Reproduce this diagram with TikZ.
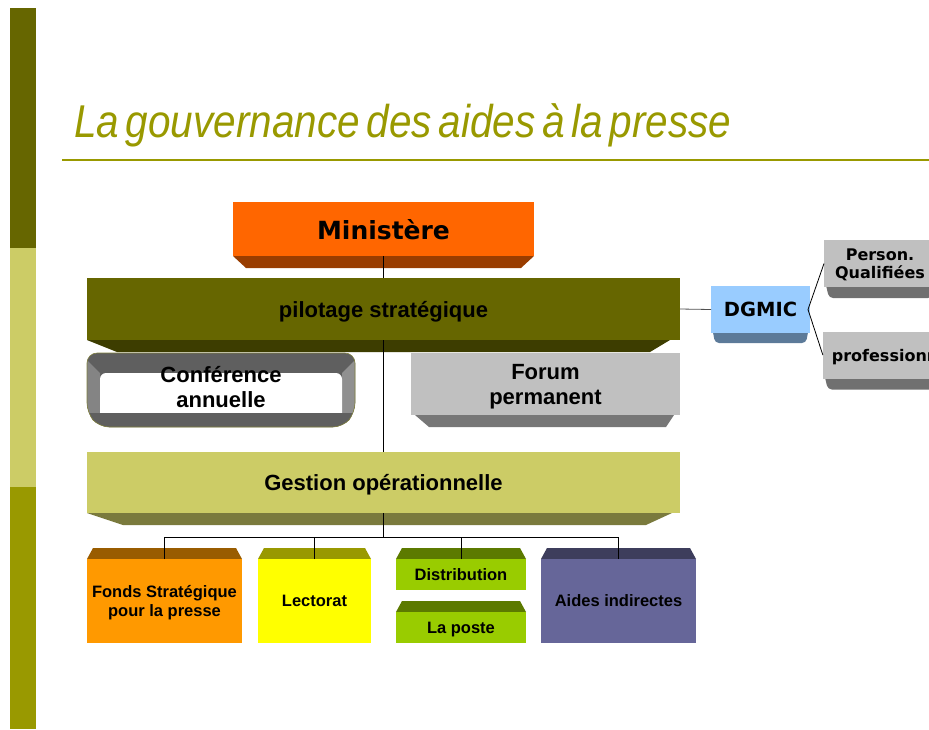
\documentclass[tikz,border=0pt]{standalone}
\usepackage{fontspec}
\setmainfont{Liberation Sans}
\newfontfamily\verdfont{DejaVu Sans}
\newfontfamily\titlefont{Liberation Sans}[FakeStretch=0.88,WordSpace=0.6]
\usetikzlibrary{backgrounds}
\definecolor{barA}{HTML}{666600}
\definecolor{barB}{HTML}{CCCC66}
\definecolor{barC}{HTML}{999900}
\definecolor{cTit}{HTML}{999900}
\definecolor{cMin}{HTML}{FF6600}
\definecolor{cMinD}{HTML}{993D00}
\definecolor{cPil}{HTML}{666600}
\definecolor{cPilD}{HTML}{3D3D00}
\definecolor{cFor}{HTML}{C0C0C0}
\definecolor{cForD}{HTML}{777777}
\definecolor{cGes}{HTML}{CCCC66}
\definecolor{cGesD}{HTML}{7A7A3D}
\definecolor{cFon}{HTML}{FF9900}
\definecolor{cFonD}{HTML}{995C00}
\definecolor{cLec}{HTML}{FFFF00}
\definecolor{cLecD}{HTML}{999900}
\definecolor{cDis}{HTML}{99CC00}
\definecolor{cDisD}{HTML}{5C7A00}
\definecolor{cAid}{HTML}{666699}
\definecolor{cAidD}{HTML}{3D3D5C}
\definecolor{cDgm}{HTML}{99CCFF}
\definecolor{cDgmD}{HTML}{5C7A99}
\definecolor{cGry}{HTML}{C0C0C0}
\definecolor{cGryD}{HTML}{707070}
\definecolor{frameTop}{HTML}{5F5F5F}
\definecolor{frameSide}{HTML}{848484}
\definecolor{frameLine}{HTML}{80803F}
\definecolor{lineG}{HTML}{505050}
\begin{document}
\begin{tikzpicture}[x=1pt,y=-1pt,
  box/.style={inner sep=0pt,outer sep=0pt,align=center,text=black,text depth=0pt},
  big/.style={font=\bfseries\fontsize{22}{25}\selectfont},
  small/.style={font=\bfseries\fontsize{16.5}{18.5}\selectfont},
  verd/.style={font=\verdfont\bfseries\fontsize{#1}{18}\selectfont},
  conn/.style={line width=0.8pt,draw=black}]
\useasboundingbox (0,0) rectangle (929,729);
\clip (0,0) rectangle (929,729);
% side bar
\fill[barA] (10,8) rectangle (36,248);
\fill[barB] (10,248) rectangle (36,487);
\fill[barC] (10,487) rectangle (36,729);
% title
\node[anchor=base west,inner sep=0pt,text=cTit,font=\titlefont\itshape\fontsize{46}{50}\selectfont] (title) at (74,137) {La gouvernance des aides à la presse};
\draw[cTit,line width=2pt] (62,160) -- (929,160);
% conference frame
\begin{scope}
\path[clip,rounded corners=10pt] (87,353) -- (355,353) -- (355,413) -- (343,427) -- (99,427) -- (87,413) -- cycle;
\fill[frameTop] (80,345) rectangle (362,430);
\fill[frameSide] (80,353) -- (100,373) -- (100,413) -- (80,413) -- cycle;
\fill[frameSide!90!white] (362,353) -- (342,373) -- (342,413) -- (362,413) -- cycle;
\fill[white,rounded corners=6pt] (100,373) rectangle (342,422);
\fill[frameTop] (80,413) rectangle (362,430);
\end{scope}
\draw[frameLine,line width=0.6pt,rounded corners=10pt] (87,353) -- (355,353) -- (355,413) -- (343,427) -- (99,427) -- (87,413) -- cycle;
% nodes
\node[box,verd=25,fill=cMin,minimum width=301pt,minimum height=54pt] (min) at (383.5,229) {Ministère};
\node[box,big,fill=cPil,minimum width=593pt,minimum height=62pt] (pil) at (383.5,309) {pilotage stratégique};
\node[box,big] (conf) at (221,386.5) {Conférence\\annuelle};
\node[box,big,fill=cFor,minimum width=269pt,minimum height=62pt] (forum) at (545.5,384) {Forum\\permanent};
\node[box,big,fill=cGes,minimum width=593pt,minimum height=61pt] (ges) at (383.5,482.5) {Gestion opérationnelle};
\node[box,small,fill=cFon,minimum width=155pt,minimum height=84pt] (fonds) at (164.5,601) {Fonds Stratégique\\pour la presse};
\node[box,small,fill=cLec,minimum width=113pt,minimum height=84pt] (lect) at (314.5,601) {Lectorat};
\node[box,small,fill=cDis,minimum width=130pt,minimum height=31pt] (dist) at (461,574.5) {Distribution};
\node[box,small,fill=cDis,minimum width=130pt,minimum height=31pt] (poste) at (461,627.5) {La poste};
\node[box,small,fill=cAid,minimum width=155pt,minimum height=84pt] (aides) at (618.5,601) {Aides indirectes};
\node[box,verd=19.5,fill=cDgm,minimum width=99pt,minimum height=47pt] (dgmic) at (760.5,309.5) {DGMIC};
\node[box,verd=16,fill=cGry,minimum width=112pt,minimum height=47pt] (pers) at (880,263.5) {Person.\\Qualifiées};
\node[box,verd=16,fill=cGry,inner xsep=9pt,minimum height=47pt] (prof) at (898,355) {professionnels};
% bevels
\begin{scope}[on background layer]
\fill[cMinD] (min.south west) -- (min.south east) -- ([shift={(-13,12)}]min.south east) -- ([shift={(13,12)}]min.south west) -- cycle;
\fill[cPilD] (pil.south west) -- ([shift={(-10,0)}]pil.south east) -- ([shift={(-30,12)}]pil.south east) -- ([shift={(30,12)}]pil.south west) -- cycle;
\fill[cForD] ([shift={(4,0)}]forum.south west) -- ([shift={(-6,0)}]forum.south east) -- ([shift={(-14,12)}]forum.south east) -- ([shift={(18,12)}]forum.south west) -- cycle;
\fill[cGesD] (ges.south west) -- ([shift={(-8,0)}]ges.south east) -- ([shift={(-34,12)}]ges.south east) -- ([shift={(36,12)}]ges.south west) -- cycle;
\fill[cFonD] (fonds.north west) -- (fonds.north east) -- ([shift={(-6,-11)}]fonds.north east) -- ([shift={(6,-11)}]fonds.north west) -- cycle;
\fill[cLecD] (lect.north west) -- (lect.north east) -- ([shift={(-6,-11)}]lect.north east) -- ([shift={(6,-11)}]lect.north west) -- cycle;
\fill[cDisD] (dist.north west) -- (dist.north east) -- ([shift={(-6,-11)}]dist.north east) -- ([shift={(6,-11)}]dist.north west) -- cycle;
\fill[cDisD] (poste.north west) -- (poste.north east) -- ([shift={(-6,-11)}]poste.north east) -- ([shift={(6,-11)}]poste.north west) -- cycle;
\fill[cAidD] (aides.north west) -- (aides.north east) -- ([shift={(-6,-11)}]aides.north east) -- ([shift={(6,-11)}]aides.north west) -- cycle;
\fill[cDgmD,rounded corners=4pt] ([shift={(1,-6)}]dgmic.south west) -- ([shift={(-1,-6)}]dgmic.south east) -- ([shift={(-4,10)}]dgmic.south east) -- ([shift={(4,10)}]dgmic.south west) -- cycle;
\fill[cGryD,rounded corners=4pt] ([shift={(1,-6)}]pers.south west) -- ([shift={(-1,-6)}]pers.south east) -- ([shift={(-4,11)}]pers.south east) -- ([shift={(5,11)}]pers.south west) -- cycle;
\fill[cGryD,rounded corners=4pt] ([shift={(1,-6)}]prof.south west) -- ([shift={(-1,-6)}]prof.south east) -- ([shift={(-4,11)}]prof.south east) -- ([shift={(5,11)}]prof.south west) -- cycle;
\end{scope}
% connectors
\draw[conn] (min.south) -- (pil.north);
\draw[conn] (pil.south) -- (ges.north);
\coordinate (bus) at ([shift={(0,24)}]ges.south);
\draw[conn] (ges.south) -- (bus);
\draw[conn] (fonds.north) |- (bus);
\draw[conn] (aides.north) |- (bus);
\draw[conn] (lect.north) -- (lect.north |- bus);
\draw[conn] (dist.north) -- (dist.north |- bus);
\draw[conn,draw=lineG] (pil.east) -- (dgmic.west);
\draw[conn] (pers.west) -- ([shift={(-2,0)}]dgmic.east) -- (prof.west);
\end{tikzpicture}
\end{document}
